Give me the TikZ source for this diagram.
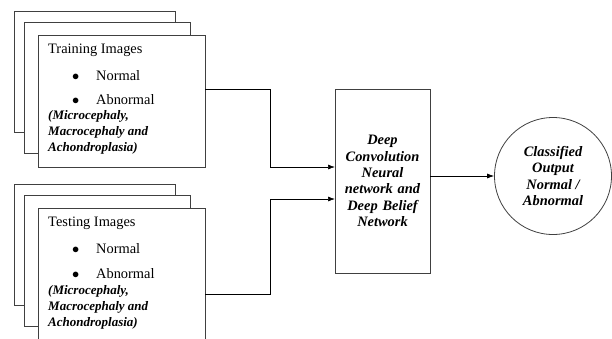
\documentclass[tikz,border=0pt]{standalone}
\usepackage{fontspec}
\setmainfont{Liberation Serif}
\usetikzlibrary{arrows.meta}

\begin{document}
\begin{tikzpicture}[x=1pt, y=-1pt,
    page/.style = {draw=black!75, fill=white, line width=0.8pt},
    box/.style = {page, shape=rectangle, inner sep=0pt, outer sep=0pt},
    item/.style = {anchor=west, inner sep=0pt, font=\fontsize{14.4}{16}\selectfont},
    kinds/.style = {anchor=west, inner sep=0pt, align=left,
      font=\fontsize{13}{16}\selectfont\bfseries\itshape},
    bold/.style = {align=center, font=\fontsize{14.4}{16.4}\selectfont\bfseries\itshape},
    arr/.style = {-{Latex[length=7pt,width=5pt]}, line width=0.7pt}]
  \clip (0,0) rectangle (612,338);
  % stacked pages behind the two image sets
  \foreach \dy in {0,173} {
    \draw[page] (14,11+\dy) rectangle (175,132+\dy);
    \draw[page] (24,22+\dy) rectangle (190,153+\dy);
  }
  \node[box, minimum width=167pt, minimum height=132pt] (train) at (121.5,101) {};
  \node[box, minimum width=167pt, minimum height=140pt] (test) at (121.5,278) {};
  % texts of the training set
  \node[item] (trainhead) at (48,50) {Training Images};
  \node[item] (trainnorm) at (72,76) {\makebox[24pt][l]{$\bullet$}Normal};
  \node[item] (trainabn) at (72,100) {\makebox[24pt][l]{$\bullet$}Abnormal};
  \node[kinds] (trainkinds) at (48,132) {(Microcephaly,\\Macrocephaly and\\Achondroplasia)};
  % texts of the testing set
  \node[item] (testhead) at (48,223) {Testing Images};
  \node[item] (testnorm) at (72,249) {\makebox[24pt][l]{$\bullet$}Normal};
  \node[item] (testabn) at (72,274) {\makebox[24pt][l]{$\bullet$}Abnormal};
  \node[kinds] (testkinds) at (48,307) {(Microcephaly,\\Macrocephaly and\\Achondroplasia)};
  % network and output
  \node[box, bold, minimum width=95pt, minimum height=184pt, text width=85pt] (dcnn) at (382.5,181)
    {Deep\\Convolution\\Neural\\network and\\Deep Belief\\Network};
  \node[page, bold, shape=circle, minimum size=117pt, inner sep=0pt] (out) at (553,176)
    {Classified\\Output\\Normal /\\Abnormal};
  \draw[arr] ([yshift=-54pt]train.north east) -- ++(65,0) |- ([yshift=14pt]dcnn.west);
  \draw[arr] ([yshift=-86pt]test.north east) -- ++(65,0) |- ([yshift=-18pt]dcnn.west);
  \draw[arr] (out.west -| dcnn.east) -- (out.west);
\end{tikzpicture}
\end{document}
